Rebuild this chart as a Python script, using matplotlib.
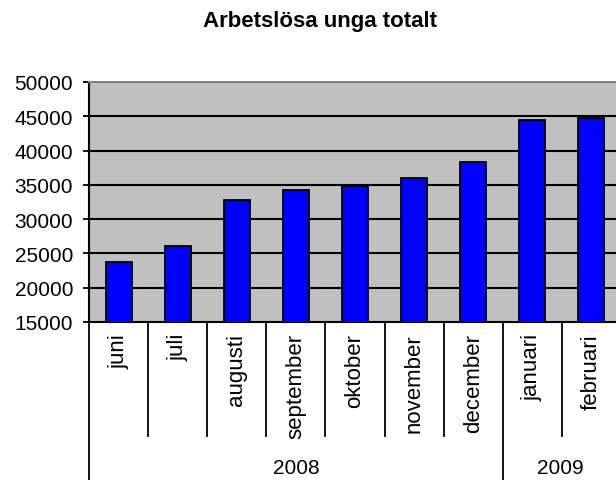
"""Excel-style bar chart: Arbetslösa unga totalt."""

import matplotlib
import matplotlib.pyplot as plt
from matplotlib.transforms import blended_transform_factory

matplotlib.use("Agg")

months = ["juni", "juli", "augusti", "september", "oktober",
          "november", "december", "januari", "februari"]
values = [23750, 26100, 32800, 34250, 34850, 36000, 38300, 44450, 44750]
years = ["2008", "2009"]
months_per_year = [7, 2]
y_ticks = [15000, 20000, 25000, 30000, 35000, 40000, 45000, 50000]

plt.rcParams["font.family"] = ["Liberation Sans", "DejaVu Sans"]

W, H = 616, 481
fig = plt.figure(figsize=(W / 100, H / 100), dpi=100)
ax = fig.add_axes([89 / W, 1 - 323 / H, (621 - 89) / W, (323 - 83) / H])
ax.set_facecolor("#C0C0C0")

x = list(range(len(months)))
ax.bar(x, values, width=0.44, color="#0000FF", edgecolor="black", linewidth=1.3, zorder=3)

for t in y_ticks[1:-1]:
    ax.axhline(t, color="black", linewidth=1.5, zorder=1)

ax.set_ylim(15000, 50000)
ax.set_xlim(-0.5, len(months) - 0.5)
ax.set_yticks(y_ticks)
ax.set_yticklabels([str(t) for t in y_ticks], fontsize=15)
ax.tick_params(axis="y", direction="out", length=4.5, width=1.3, pad=7)
ax.set_xticks([])

ax.spines["left"].set_linewidth(1.5)
ax.spines["bottom"].set_linewidth(1.5)
ax.spines["top"].set_color("#808080")
ax.spines["top"].set_linewidth(1.5)
ax.spines["right"].set_visible(False)

# multi-level category axis
tr = blended_transform_factory(ax.transData, fig.transFigure)
y_axis = 1 - 323 / H
y_month_end = 1 - 437 / H
for i, m in enumerate(months):
    ax.text(i, 1 - 334 / H, m, transform=tr, rotation=90, ha="center", va="top", fontsize=16)

year_edges = [-0.5]
for n in months_per_year:
    year_edges.append(year_edges[-1] + n)

for b in range(len(months)):
    xb = b - 0.5
    y_end = 0 if xb in year_edges else y_month_end
    ax.plot([xb, xb], [y_axis, y_end], transform=tr, color="black", linewidth=1.3, clip_on=False)

for k, yr in enumerate(years):
    left = year_edges[k]
    right = min(year_edges[k + 1], len(months) - 0.55)
    ax.text((left + right) / 2, 1 - 469 / H, yr, transform=tr, ha="center", va="center", fontsize=15)

fig.text(320 / W, 1 - 21 / H, "Arbetslösa unga totalt", ha="center", va="center",
         fontsize=16, fontweight="bold")

fig.savefig("out.png", dpi=100)
plt.close(fig)
